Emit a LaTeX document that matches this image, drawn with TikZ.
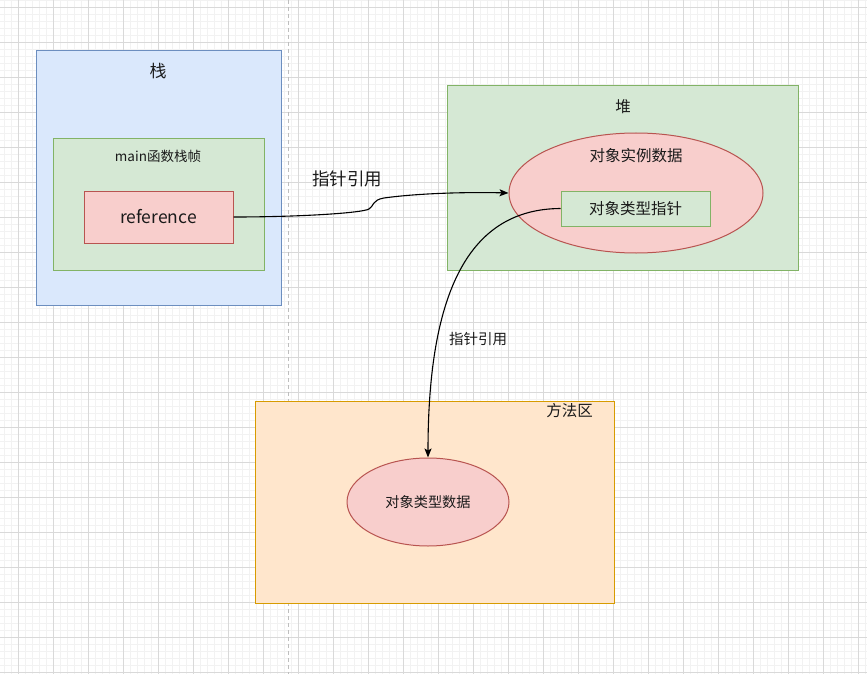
\documentclass[tikz,border=0pt]{standalone}
\usepackage{fontspec}
\setmainfont{Noto Sans CJK SC}
\usetikzlibrary{shapes.geometric,arrows.meta}
\definecolor{bluefill}{HTML}{DAE8FC}
\definecolor{bluestroke}{HTML}{6C8EBF}
\definecolor{greenfill}{HTML}{D5E8D4}
\definecolor{greenstroke}{HTML}{82B366}
\definecolor{redfill}{HTML}{F8CECC}
\definecolor{redstroke}{HTML}{B85450}
\definecolor{orangefill}{HTML}{FFE6CC}
\definecolor{orangestroke}{HTML}{D79B00}
\definecolor{txt}{HTML}{1A1A1A}
\definecolor{minorgrid}{HTML}{F2F2F2}
\definecolor{majorgrid}{HTML}{D9D9D9}
\tikzset{
  box/.style={draw, rectangle, inner sep=0pt, line width=1pt},
  ell/.style={draw, ellipse, inner sep=0pt, line width=1pt, fill=redfill, draw=redstroke},
  lbl/.style={inner sep=0pt, text=txt},
  conn/.style={line width=1.1pt, -{Stealth[length=9pt,width=7pt,inset=2pt]}},
  mingrid/.style={draw=minorgrid, line width=0.8pt},
  majgrid/.style={draw=majorgrid, line width=0.9pt},
}
\begin{document}
\begin{tikzpicture}[x=1pt,y=-1pt]
\useasboundingbox (0,0) rectangle (867,674);
\fill[white] (0,0) rectangle (867,674);
% grid
\foreach \i in {0,...,123} \draw[mingrid] ({4+7*\i},0) -- ({4+7*\i},674);
\foreach \i in {0,...,96} \draw[mingrid] (0,{0.7+7*\i}) -- (867,{0.7+7*\i});
\foreach \i in {0,...,24} \draw[majgrid] ({18+35*\i},0) -- ({18+35*\i},674);
\foreach \i in {0,...,19} \draw[majgrid] (0,{7.7+35*\i}) -- (867,{7.7+35*\i});
% dashed page break
\coordinate (dtop) at (288,0);
\coordinate (dbot) at (288,674);
\draw[draw={rgb,255:red,190;green,190;blue,190}, line width=1pt, dash pattern=on 4pt off 3pt] (dtop) -- (dbot);
% stack
\node[box, fill=bluefill, draw=bluestroke, minimum width=245pt, minimum height=254pt] (stack) at (158.5,178) {};
\node[lbl, font=\fontsize{17}{17}\selectfont] (stacklbl) at (158,71) {栈};
\node[box, fill=greenfill, draw=greenstroke, minimum width=211pt, minimum height=131pt] (frame) at (158.5,204.5) {};
\node[lbl, font=\fontsize{13.5}{13.5}\selectfont] (framelbl) at (158,156) {main函数栈帧};
\node[box, fill=redfill, draw=redstroke, minimum width=149pt, minimum height=52pt, text=txt, font=\fontsize{17.5}{17.5}\selectfont] (ref) at (158.5,217) {reference};
% heap
\node[box, fill=greenfill, draw=greenstroke, minimum width=351pt, minimum height=184pt] (heap) at (622.5,178) {};
\node[lbl, font=\fontsize{15.5}{15.5}\selectfont] (heaplbl) at (623,107) {堆};
\node[ell, minimum width=254pt, minimum height=120pt] (inst) at (636,193) {};
\node[lbl, font=\fontsize{15.5}{15.5}\selectfont] (instlbl) at (636,156) {对象实例数据};
\node[box, fill=greenfill, draw=greenstroke, minimum width=149pt, minimum height=35pt, text=txt, font=\fontsize{15.5}{15.5}\selectfont] (ptr) at (635.5,208.5) {对象类型指针};
% method area
\node[box, fill=orangefill, draw=orangestroke, minimum width=359pt, minimum height=202pt] (method) at (434.5,502) {};
\node[lbl, font=\fontsize{15.5}{15.5}\selectfont] (methodlbl) at (569.5,411) {方法区};
\node[ell, minimum width=162pt, minimum height=88pt, text=txt, font=\fontsize{14.2}{14.2}\selectfont] (type) at (428,502) {对象类型数据};
% connectors
\draw[conn] (ref.east) .. controls (300,217) and (362,213) .. (369,209)
  .. controls (374,206) and (372,200) .. (384,198)
  .. controls (420,193) and (470,192) .. (inst.west);
\node[lbl, font=\fontsize{17.5}{17.5}\selectfont] (l1) at (347,179) {指针引用};
\draw[conn] (ptr.west) .. controls (470,209) and (428,290) .. (type.north);
\node[lbl, font=\fontsize{14.5}{14.5}\selectfont] (l2) at (478,339) {指针引用};
\end{tikzpicture}
\end{document}
